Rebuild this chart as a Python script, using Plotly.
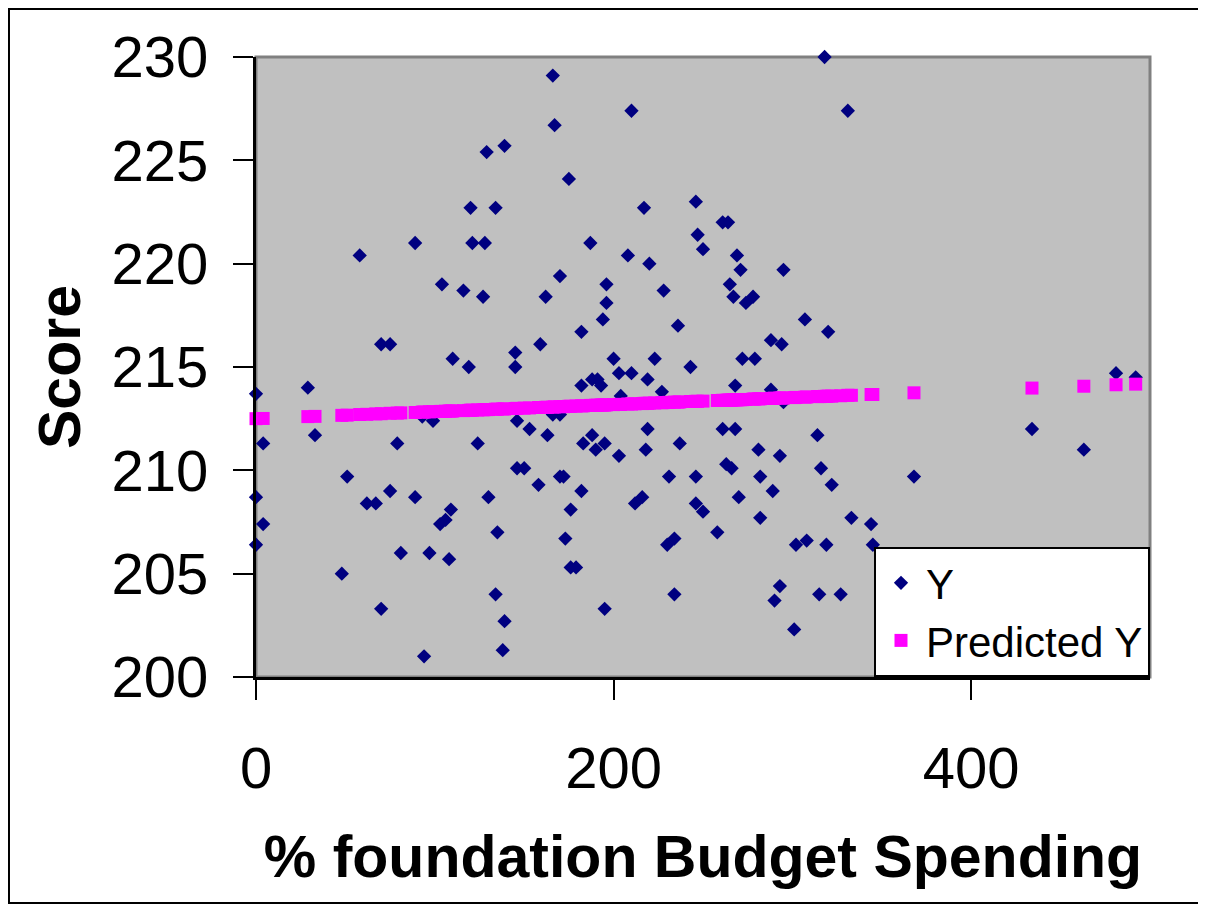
"""Score vs % foundation budget spending: observed Y and predicted Y (Excel-style chart)."""

import plotly.graph_objects as go

Y_X = [
    0, 4, 0, 4, 0, 29, 33, 48, 51, 58, 62, 67, 70, 75, 70, 75, 79, 81, 89, 89,
    94, 97, 99, 104, 103, 106, 109, 108, 110, 116, 119, 120, 121, 124, 127, 129, 128, 130, 134, 134,
    135, 139, 139, 138, 145, 145, 146, 146, 150, 153, 158, 159, 162, 163, 166, 167, 166, 170, 170, 172,
    173, 175, 176, 176, 179, 182, 182, 183, 182, 187, 188, 188, 190, 191, 193, 194, 195, 195, 196, 196,
    200, 203, 203, 208, 210, 212, 216, 217, 219, 218, 219, 220, 223, 210, 228, 227, 231, 230, 234, 234,
    236, 237, 243, 246, 247, 250, 246, 246, 250, 258, 261, 264, 261, 268, 263, 266, 265, 267, 268, 269,
    271, 270, 272, 274, 278, 279, 281, 282, 282, 288, 289, 294, 293, 288, 290, 293, 295, 295, 301, 302,
    308, 307, 314, 316, 315, 318, 319, 320, 322, 327, 331, 333, 344, 345, 368, 434, 463, 481, 492, 170,
    93, 204,
]
Y_SCORE = [
    213.7, 211.3, 208.7, 207.4, 206.4, 214.0, 211.7, 205.0, 209.7, 220.4, 208.4, 208.4, 216.1, 216.1, 203.3, 209.0, 211.3, 206.0, 221.0, 208.7,
    201.0, 206.0, 212.4, 219.0, 207.4, 207.6, 208.1, 205.7, 215.4, 218.7, 215.0, 222.7, 221.0, 211.3, 218.4, 225.4, 221.0, 208.7, 222.7, 204.0,
    207.0, 225.7, 202.7, 201.3, 215.7, 215.0, 212.4, 210.1, 210.1, 212.0, 209.3, 216.1, 218.4, 211.7, 229.1, 226.7, 212.7, 219.4, 209.7, 209.7,
    206.7, 224.1, 208.1, 205.3, 205.3, 216.7, 214.1, 211.3, 209.0, 221.0, 211.7, 214.4, 211.0, 214.4, 214.1, 217.3, 203.3, 211.3, 219.0, 218.1,
    215.4, 214.7, 210.7, 220.4, 214.7, 208.4, 208.7, 222.7, 212.0, 211.0, 214.4, 220.0, 215.4, 227.4, 218.7, 213.8, 209.7, 206.4, 206.7, 204.0,
    217.0, 211.3, 215.0, 223.0, 221.4, 220.7, 209.7, 208.4, 208.0, 207.0, 222.0, 222.0, 212.0, 212.0, 210.3, 210.1, 219.0, 218.4, 214.1, 220.4,
    219.7, 208.7, 215.4, 218.1, 218.4, 215.4, 211.0, 207.7, 209.7, 216.3, 209.0, 216.1, 210.7, 213.9, 203.7, 204.4, 219.7, 213.3, 202.3, 206.4,
    206.6, 217.3, 211.7, 210.1, 204.0, 230.0, 206.4, 216.7, 209.3, 204.0, 227.4, 207.7, 207.4, 206.4, 209.7, 212.0, 211.0, 214.7, 214.5, 212.7,
    212.6, 213.6,
]

# Predicted Y (regression line values).
PRED_X = [
    0, 4, 29, 33, 48, 51, 58, 62, 67, 70, 75, 79, 81, 89, 93, 94, 97, 99, 103, 104,
    106, 108, 109, 110, 116, 119, 120, 121, 124, 127, 128, 129, 130, 134, 135, 138, 139, 145, 146, 150,
    153, 158, 159, 162, 163, 166, 167, 170, 172, 173, 175, 176, 179, 182, 183, 187, 188, 190, 191, 193,
    194, 195, 196, 200, 203, 204, 208, 210, 212, 216, 217, 218, 219, 220, 223, 227, 228, 230, 231, 234,
    236, 237, 243, 246, 247, 250, 258, 261, 263, 264, 265, 266, 267, 268, 269, 270, 271, 272, 274, 278,
    279, 281, 282, 288, 289, 290, 293, 294, 295, 301, 302, 307, 308, 314, 315, 316, 318, 319, 320, 322,
    327, 331, 333, 344, 345, 368, 434, 463, 481, 492,
]
PRED_Y = [
    212.50, 212.51, 212.60, 212.61, 212.66, 212.67, 212.70, 212.71, 212.73, 212.74, 212.76, 212.77, 212.78, 212.80, 212.82, 212.82, 212.83, 212.84, 212.85, 212.85,
    212.86, 212.87, 212.87, 212.87, 212.89, 212.90, 212.91, 212.91, 212.92, 212.93, 212.94, 212.94, 212.94, 212.96, 212.96, 212.97, 212.97, 212.99, 213.00, 213.01,
    213.02, 213.04, 213.04, 213.05, 213.05, 213.06, 213.07, 213.08, 213.08, 213.09, 213.10, 213.10, 213.11, 213.12, 213.12, 213.14, 213.14, 213.15, 213.15, 213.16,
    213.16, 213.16, 213.17, 213.18, 213.19, 213.19, 213.21, 213.21, 213.22, 213.23, 213.24, 213.24, 213.24, 213.25, 213.26, 213.27, 213.28, 213.28, 213.29, 213.30,
    213.30, 213.31, 213.33, 213.34, 213.34, 213.35, 213.38, 213.39, 213.39, 213.40, 213.40, 213.40, 213.41, 213.41, 213.41, 213.42, 213.42, 213.42, 213.43, 213.45,
    213.45, 213.46, 213.46, 213.48, 213.48, 213.49, 213.50, 213.50, 213.50, 213.52, 213.53, 213.54, 213.55, 213.57, 213.57, 213.57, 213.58, 213.58, 213.59, 213.59,
    213.61, 213.63, 213.63, 213.67, 213.67, 213.75, 213.98, 214.07, 214.14, 214.17,
]

X_TICKS = [0, 200, 400]
Y_TICKS = [200, 205, 210, 215, 220, 225, 230]
X_RANGE = [0, 500]
Y_RANGE = [200, 230]

FONT = "Liberation Sans, Arial, sans-serif"
NAVY = "#000080"
MAGENTA = "#FF00FF"
PLOT_BG = "#C0C0C0"

fig = go.Figure()
fig.add_scatter(
    x=Y_X,
    y=Y_SCORE,
    mode="markers",
    name="Y",
    marker={"symbol": "diamond", "size": 11, "color": NAVY},
    cliponaxis=False,
)
fig.add_scatter(
    x=PRED_X,
    y=PRED_Y,
    mode="markers",
    name="Predicted Y",
    marker={"symbol": "square", "size": 13, "color": MAGENTA},
    cliponaxis=False,
)

tick_font = {"family": FONT, "size": 58, "color": "black"}
title_font = {"family": FONT, "size": 59, "color": "black"}

# the page body adds an 8px offset, so the figure is 8px smaller than the window
fig.update_layout(
    width=1198,
    height=897,
    margin={"l": 248, "r": 56, "t": 49, "b": 228, "autoexpand": False},
    paper_bgcolor="white",
    plot_bgcolor=PLOT_BG,
    showlegend=True,
    legend={
        "x": 1,
        "y": 0,
        "xanchor": "right",
        "yanchor": "bottom",
        "bgcolor": "white",
        "bordercolor": "black",
        "borderwidth": 2,
        "font": {"family": FONT, "size": 42, "color": "black"},
        "itemwidth": 40,
    },
    xaxis={
        "range": X_RANGE,
        "tickvals": X_TICKS,
        "ticks": "outside",
        "ticklen": 20,
        "tickwidth": 2,
        "tickcolor": "black",
        "showline": True,
        "linecolor": "black",
        "linewidth": 3,
        "showgrid": False,
        "zeroline": False,
        "automargin": False,
        "tickfont": tick_font,
        "ticklabelstandoff": 18,
        "title": {
            "text": "<b>% foundation Budget Spending</b>",
            "font": title_font,
            "standoff": 38,
        },
    },
    yaxis={
        "range": Y_RANGE,
        "tickvals": Y_TICKS,
        "ticks": "outside",
        "ticklen": 20,
        "tickwidth": 2,
        "tickcolor": "black",
        "showline": True,
        "linecolor": "black",
        "linewidth": 3,
        "showgrid": False,
        "zeroline": False,
        "automargin": False,
        "tickfont": tick_font,
        "ticklabelstandoff": 13,
        "title": {"text": "<b>Score</b>", "font": title_font, "standoff": 12},
    },
    # second pair of axes only draws the inner half of the cross tick marks
    xaxis2={
        "overlaying": "x",
        "range": X_RANGE,
        "tickvals": X_TICKS,
        "ticks": "inside",
        "ticklen": 20,
        "tickwidth": 2,
        "tickcolor": "black",
        "showticklabels": False,
        "showgrid": False,
        "zeroline": False,
        "automargin": False,
        "side": "bottom",
    },
    yaxis2={
        "overlaying": "y",
        "range": Y_RANGE,
        "tickvals": Y_TICKS,
        "ticks": "inside",
        "ticklen": 20,
        "tickwidth": 2,
        "tickcolor": "black",
        "showticklabels": False,
        "showgrid": False,
        "zeroline": False,
        "automargin": False,
        "side": "left",
    },
)

# gray frame on top/right of plot area and thin outer chart border
fig.add_shape(
    type="rect", xref="paper", yref="paper", x0=0, y0=0, x1=1, y1=1,
    line={"color": "#808080", "width": 3}, layer="below",
)
fig.add_shape(
    type="rect", xref="paper", yref="paper", x0=-0.2763, y0=-0.3645, x1=1.0605, y1=1.0774,
    line={"color": "black", "width": 2}, layer="below",
)

fig.write_html("out.html")
